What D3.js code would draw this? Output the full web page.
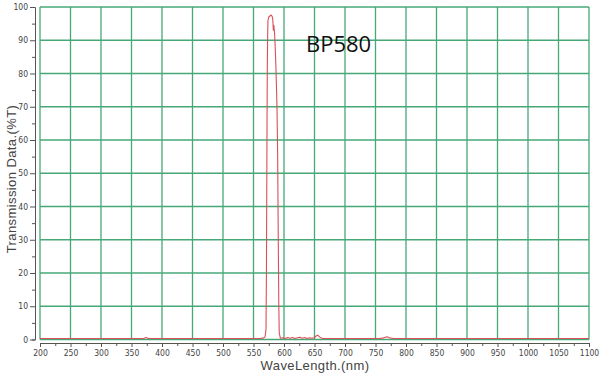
<!DOCTYPE html>
<html>
<head>
<meta charset="utf-8">
<script src="https://cdn.jsdelivr.net/npm/d3@7"></script>
<style>
  body { margin: 0; background: #fff; }
  svg { display: block; }
</style>
</head>
<body>
<svg width="600" height="375"></svg>
<script>
// spectrum
const wavelength = [200, 260, 320, 360, 370, 374, 378, 440, 500, 540, 560, 566, 569, 570.5, 571.2, 572.2, 572.6, 573.1, 573.7,
  575, 577, 579, 580.5, 581.5, 582.5, 583.3, 584.6, 585.8, 586.9, 588.5, 589.6, 590.6, 591.5, 592.2, 594,
  598, 602, 606, 610, 614, 618, 622, 626, 630, 634, 638, 642, 646, 650, 653, 655, 657, 660, 664, 680, 720, 755,
  762, 766, 769, 773, 780, 850, 950, 1050, 1100];
const transmission = [0.3, 0.3, 0.3, 0.3, 0.3, 0.6, 0.3, 0.3, 0.3, 0.3, 0.3, 0.4, 0.8, 3, 20, 66, 81, 90, 96,
  97, 97.3, 97.6, 97.2, 96.5, 93, 94.5, 92, 87, 81, 70, 55, 30, 10, 2, 0.4,
  0.5, 0.3, 0.6, 0.4, 0.6, 0.3, 0.5, 0.7, 0.4, 0.6, 0.3, 0.5, 0.4, 0.6, 1.1, 1.3, 1.0, 0.5, 0.3, 0.3, 0.3, 0.3,
  0.4, 0.7, 0.8, 0.5, 0.3, 0.3, 0.3, 0.3, 0.3];
const xTicks = d3.range(200, 1101, 50);
const yTicks = d3.range(0, 101, 10);
const filterName = 'BP580';

const svg = d3.select('svg');
const green = '#46a877';
const red = '#dc4f57';

const x = d3.scaleLinear().domain([200, 1100]).range([40, 589]);
const y = d3.scaleLinear().domain([0, 100]).range([339.5, 7]);

// grid
const grid = svg.append('g');
grid.selectAll('.vx')
  .data(xTicks)
  .join('line')
  .attr('x1', (d) => x(d)).attr('x2', (d) => x(d))
  .attr('y1', y(0)).attr('y2', y(100))
  .attr('stroke', green)
  .attr('stroke-width', 1.3);
grid.selectAll('.hy')
  .data(yTicks)
  .join('line')
  .attr('x1', x(200)).attr('x2', x(1100))
  .attr('y1', (d) => y(d)).attr('y2', (d) => y(d))
  .attr('stroke', green)
  .attr('stroke-width', 1.3);

// axes
const tickFont = '"DejaVu Sans", sans-serif';

const yAxis = svg.append('g')
  .attr('transform', 'translate(35,0)')
  .call(d3.axisLeft(y).tickValues(d3.range(0, 101, 5)).tickSize(3)
    .tickFormat((d) => (d % 10 === 0 ? d : '')));
yAxis.select('.domain').attr('stroke', '#555');
yAxis.selectAll('.tick line').attr('stroke', '#555');
yAxis.selectAll('.tick')
  .filter((d) => d % 10 === 0)
  .select('line').attr('x2', -5);
yAxis.selectAll('text')
  .attr('x', -7)
  .style('font-family', tickFont)
  .style('font-stretch', 'condensed')
  .style('font-size', '8.5px')
  .attr('fill', '#444');

const xAxis = svg.append('g')
  .attr('transform', 'translate(0,343)')
  .call(d3.axisBottom(x).tickValues(d3.range(200, 1101, 25)).tickSize(3)
    .tickFormat((d) => (d % 50 === 0 ? d : '')));
xAxis.select('.domain').attr('stroke', '#555');
xAxis.selectAll('.tick line').attr('stroke', '#555');
xAxis.selectAll('.tick')
  .filter((d) => d % 50 === 0)
  .select('line').attr('y2', 4);
xAxis.selectAll('text')
  .attr('y', 7)
  .style('font-family', tickFont)
  .style('font-stretch', 'condensed')
  .style('font-size', '8.5px')
  .attr('fill', '#444');

// curve
const points = wavelength.map((w, i) => [w, transmission[i]]);
const line = d3.line()
  .x((d) => x(d[0]))
  .y((d) => y(d[1]));
svg.append('path')
  .datum(points)
  .attr('d', line)
  .attr('fill', 'none')
  .attr('stroke', red)
  .attr('stroke-width', 1.1)
  .attr('stroke-linejoin', 'round');

// labels
svg.append('text')
  .attr('x', 306)
  .attr('y', 52)
  .style('font-family', '"Open Sans", "Noto Sans", sans-serif')
  .style('font-size', '22px')
  .attr('fill', '#111')
  .text(filterName);

svg.append('text')
  .attr('x', 315)
  .attr('y', 370)
  .attr('text-anchor', 'middle')
  .style('font-family', '"Liberation Sans", Arial, sans-serif')
  .style('font-size', '13px')
  .style('letter-spacing', '0.4px')
  .attr('fill', '#444')
  .text('WaveLength.(nm)');

svg.append('text')
  .attr('transform', 'translate(16,179) rotate(-90)')
  .attr('text-anchor', 'middle')
  .style('font-family', '"Liberation Sans", Arial, sans-serif')
  .style('font-size', '13px')
  .style('letter-spacing', '0.4px')
  .attr('fill', '#444')
  .text('Transmission Data.(%T)');
</script>
</body>
</html>
